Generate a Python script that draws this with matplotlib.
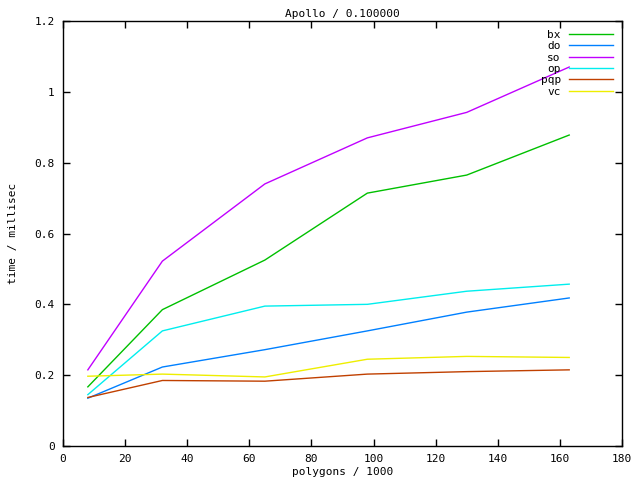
import matplotlib
matplotlib.use("Agg")
import matplotlib.pyplot as plt

# polygon counts (thousands) and timings (millisec) per method
polygons = [8, 32, 65, 98, 130, 163]
bx = [0.167, 0.385, 0.525, 0.714, 0.765, 0.878]
do = [0.135, 0.223, 0.272, 0.325, 0.378, 0.418]
so = [0.215, 0.522, 0.740, 0.870, 0.942, 1.070]
op = [0.145, 0.325, 0.395, 0.400, 0.437, 0.457]
pqp = [0.137, 0.185, 0.183, 0.203, 0.210, 0.215]
vc = [0.197, 0.203, 0.195, 0.245, 0.253, 0.250]

series = [("bx", bx, "#00c000"), ("do", do, "#0080ff"), ("so", so, "#c000ff"),
          ("op", op, "#00eeee"), ("pqp", pqp, "#c04000"), ("vc", vc, "#eeee00")]

plt.rcParams["font.family"] = "DejaVu Sans Mono"
plt.rcParams["font.size"] = 8

fig = plt.figure(figsize=(6.4, 4.8), dpi=100)
ax = fig.add_axes([63 / 640, 34 / 480, 559 / 640, 425 / 480])

for name, vals, col in series:
    ax.plot(polygons, vals, color=col, lw=1, label=name)

ax.set_xlim(0, 180)
ax.set_ylim(0, 1.2)
ax.set_xticks(range(0, 181, 20))
ax.set_yticks([0, 0.2, 0.4, 0.6, 0.8, 1, 1.2])
ax.set_yticklabels(["0", "0.2", "0.4", "0.6", "0.8", "1", "1.2"])
ax.tick_params(direction="in", top=True, right=True, length=5, width=1, pad=6)
for s in ax.spines.values():
    s.set_linewidth(1)

ax.set_title("Apollo / 0.100000", fontsize=8, pad=3)
ax.set_xlabel("polygons / 1000", labelpad=2)
ax.set_ylabel("time / millisec", labelpad=12)

ax.legend(loc="upper right", frameon=False, markerfirst=False, handlelength=4.0,
          labelspacing=0.12, borderaxespad=0.5, handletextpad=0.7,
          borderpad=0.3)

fig.savefig("out.png", dpi=100)
